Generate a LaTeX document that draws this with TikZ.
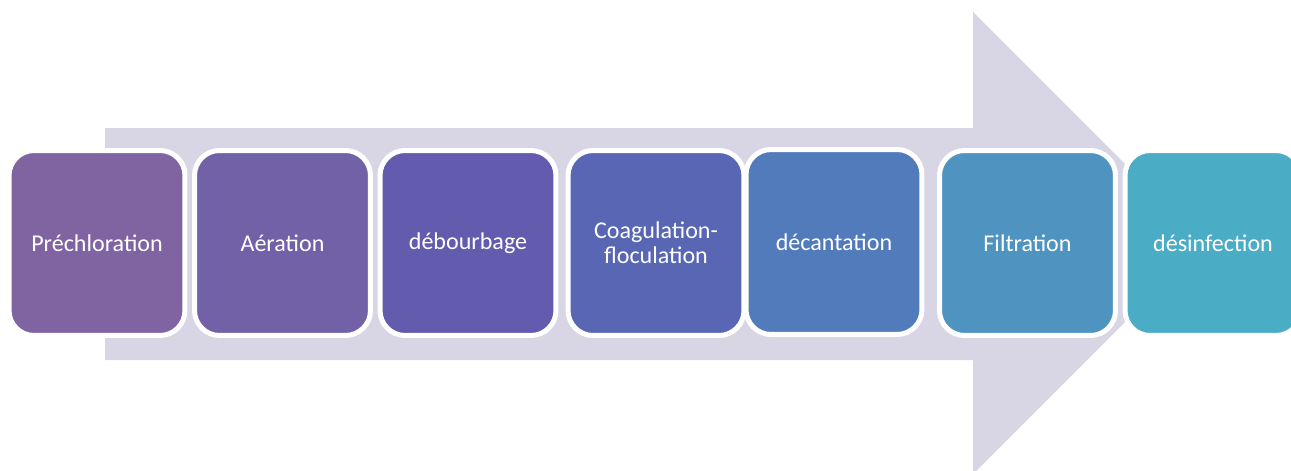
\documentclass[tikz,border=0pt]{standalone}
\usepackage{fontspec}
\setmainfont{Carlito}
\usepackage{tikz}
\definecolor{arrowgray}{HTML}{D8D5E4}
\definecolor{stageA}{HTML}{8064A2}
\definecolor{stageB}{HTML}{7361A7}
\definecolor{stageC}{HTML}{625BAE}
\definecolor{stageD}{HTML}{5866B3}
\definecolor{stageE}{HTML}{527BBB}
\definecolor{stageF}{HTML}{4F93C1}
\definecolor{stageG}{HTML}{4BACC6}

\begin{document}
\begin{tikzpicture}[x=0.02cm, y=-0.02cm,
    stage/.style={rectangle, rounded corners=0.5cm, draw=white, line width=0.1cm,
        minimum width=3.52cm, minimum height=3.7cm, text=white, align=center,
        font=\fontsize{13.7}{14.2}\selectfont}]
        \clip (0,0) rectangle (1291,470);

        % Arrow
        \fill[arrowgray] (105,128) -- (973,128) -- (973,12) -- (1204,243)
            -- (973,474) -- (973,360) -- (105,360) -- cycle;

        % Nodes
        \node[stage, fill=stageA] (prechlor) at (97,243) {Préchloration};
        \node[stage, fill=stageB] (aeration) at (282.5,243) {Aération};
        \node[stage, fill=stageC] (debourb) at (468,243) {débourbage};
        \node[stage, fill=stageD] (coag) at (656,243) {Coagulation-\\floculation};
        \node[stage, fill=stageE] (decant) at (834,242) {décantation};
        \node[stage, fill=stageF] (filtr) at (1027.5,243) {Filtration};
        \node[stage, fill=stageG] (desinf) at (1213,243) {désinfection};

\end{tikzpicture}
\end{document}
